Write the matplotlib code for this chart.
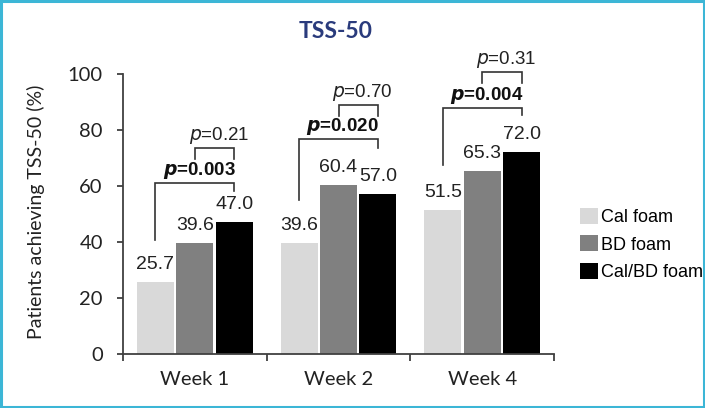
import numpy as np
import matplotlib.pyplot as plt
from matplotlib.patches import Rectangle

weeks = ["Week 1", "Week 2", "Week 4"]
treatments = ["Cal foam", "BD foam", "Cal/BD foam"]
cal = [25.7, 39.6, 51.5]
bd = [39.6, 60.4, 65.3]
calbd = [47.0, 57.0, 72.0]

# comparison Cal vs Cal/BD, and BD vs Cal/BD
p_outer = ["0.003", "0.020", "0.004"]
p_inner = ["0.21", "0.70", "0.31"]
outer_top = [61.1, 76.8, 87.9]
outer_left = [40.7, 55.0, 67.5]
outer_right = [58.3, 73.6, 85.2]
inner_top = [73.6, 88.9, 100.7]
inner_bottom = [69.6, 85.0, 96.8]

colors = ["#d9d9d9", "#808080", "#000000"]
label_font = ["Liberation Sans Narrow", "Liberation Sans", "DejaVu Sans"]

fig = plt.figure(figsize=(7.05, 4.08), dpi=100)
fig.patch.set_facecolor("white")
ax = fig.add_axes([123 / 705, 1 - 354 / 408, (554 - 123) / 705, 280 / 408])

x = np.arange(len(weeks))
step = 0.274
w = 0.257
series = [cal, bd, calbd]
bars = []
for i, vals in enumerate(series):
    b = ax.bar(x + (i - 1) * step, vals, w, color=colors[i], label=treatments[i])
    bars.append(b)
    for xi, v in zip(x + (i - 1) * step, vals):
        ax.annotate(f"{v:.1f}", (xi, v), xytext=(0, 9.5), textcoords="offset points",
                    ha="center", va="baseline", fontsize=14, family=label_font,
                    color="#222222")

lc = "#333333"
for g in range(len(weeks)):
    xl = x[g] - step
    xm = x[g]
    xr = x[g] + step
    ax.plot([xl, xl, xr, xr], [outer_left[g], outer_top[g], outer_top[g], outer_right[g]],
            color=lc, lw=1.2, solid_joinstyle="miter", clip_on=False)
    ax.text((xl + xr) / 2 + 0.03, outer_top[g] + 0.6, f"$\\boldsymbol{{p}}$=" + p_outer[g],
            ha="center", va="bottom", fontsize=13.5, fontweight="bold", family=label_font,
            color="#111111")
    ax.plot([xm, xm, xr, xr], [inner_bottom[g], inner_top[g], inner_top[g], inner_bottom[g]],
            color=lc, lw=1.2, solid_joinstyle="miter", clip_on=False)
    ax.text((xm + xr) / 2 + 0.03, inner_top[g] + 0.6, "$p$=" + p_inner[g],
            ha="center", va="bottom", fontsize=13.5, family=label_font, color="#222222")

ax.set_xlim(-0.5, 2.5)
ax.set_ylim(0, 100)
ax.set_yticks(np.arange(0, 101, 20))
ax.set_xticks(x)
ax.set_xticklabels(weeks, fontsize=14.5, family="Lato", color="#222222")
ax.set_xticks([-0.5, 0.5, 1.5, 2.5], minor=True)
ax.tick_params(axis="x", which="major", length=0, pad=12)
ax.tick_params(axis="x", which="minor", length=5, width=1.3, direction="out", color="#404040")
ax.tick_params(axis="y", length=4.5, width=1.3, color="#404040", pad=10, labelsize=14.5)
for t in ax.get_yticklabels():
    t.set_family("Lato")
    t.set_color("#222222")
for s in ["top", "right"]:
    ax.spines[s].set_visible(False)
for s in ["left", "bottom"]:
    ax.spines[s].set_color("#404040")
    ax.spines[s].set_linewidth(1.3)
ax.spines["left"].set_bounds(0, 100)

ax.set_ylabel("Patients achieving TSS-50 (%)", fontsize=14, family="Lato", color="#222222")
ax.yaxis.set_label_coords(-0.181, 0.507)

fig.text(336 / 705, 1 - 32 / 408, "TSS-50", ha="center", va="center", fontsize=16.5,
         fontweight="bold", family="Lato", color="#2a3b7c")

fig.legend(handles=bars, labels=treatments, loc="upper left",
           bbox_to_anchor=(580 / 705, 1 - 208 / 408), frameon=False,
           prop={"family": "Liberation Sans", "size": 13},
           handlelength=1.0, handleheight=1.0, handletextpad=0.15, labelspacing=0.5,
           borderpad=0, borderaxespad=0)

fig.patches.append(Rectangle((0.002, 0.003), 0.996, 0.994, transform=fig.transFigure,
                             fill=False, edgecolor="#3cb6d6", lw=2.2))

fig.savefig("out.png", dpi=100)
